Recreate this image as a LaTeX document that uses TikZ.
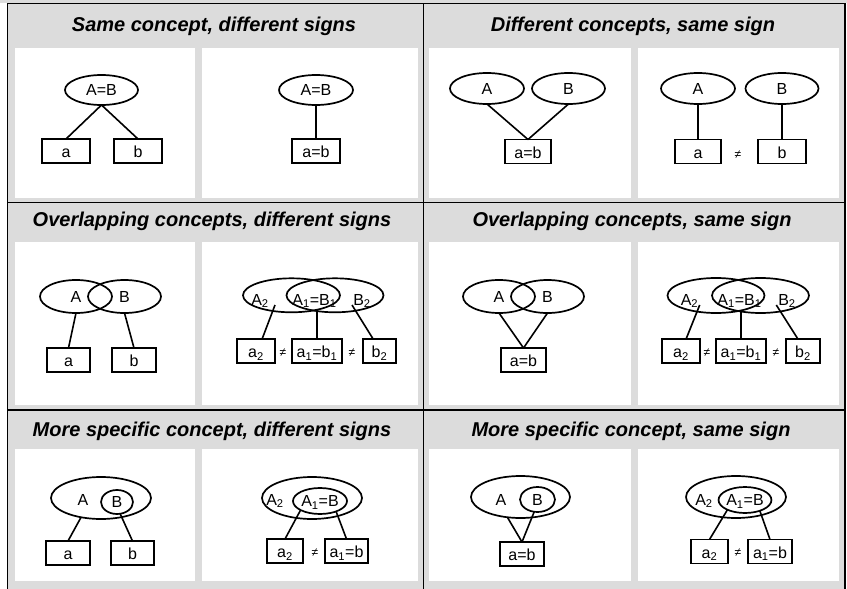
\documentclass[tikz,border=0pt]{standalone}
\usepackage{fontspec}
\setmainfont{Liberation Sans}
\usetikzlibrary{shapes.geometric}
\definecolor{cellgray}{RGB}{220,220,220}
\newcommand{\hdfont}{\fontsize{20}{22}\selectfont\bfseries\itshape}
\newcommand{\lblfont}{\fontsize{16}{18}\selectfont}
\newcommand{\neqfont}{\fontsize{12}{12}\selectfont}
\tikzset{concept/.style={draw, ellipse, line width=1.7pt, inner sep=0pt, outer sep=0pt,
                         text height=11.5pt, text depth=0pt, font=\lblfont},  % concept ellipse
         signbox/.style={draw, rectangle, line width=1.7pt, inner sep=0pt, outer sep=0pt,
                         minimum height=24pt, text height=13pt, text depth=0pt, font=\lblfont},
         lbl/.style={inner sep=0pt, anchor=base, font=\lblfont},
         neq/.style={inner sep=0pt, font=\neqfont},
         tie/.style={line width=1.6pt},
         heading/.style={inner sep=0pt, anchor=base, font=\hdfont},
         rule/.style={line width=1.3pt}}

\begin{document}
\begin{tikzpicture}[x=1pt, y=-1pt]
    \useasboundingbox (0,0) rectangle (847,589);

    % Cells
    \fill[cellgray] (0,0) rectangle (847,2.5);
    \fill[cellgray] (7.5,3.5) rectangle (845,589);
    \foreach \ya/\yb in {48/198, 242/405, 449/581}
        \foreach \xa/\xb in {15/195, 202/418, 429/631, 638/839}
            \fill[white] (\xa,\ya) rectangle (\xb,\yb);

    % Rules
    \draw[rule] (7.5,589) -- (7.5,3.5) -- (845,3.5) -- (845,589);
    \draw[rule] (423.3,3.5) -- (423.3,589);
    \foreach \y in {202.7, 410} \draw[rule] (7.5,\y) -- (845,\y);

    % Headings
    \node[heading] (h1) at (214,31.5) {Same concept, different signs};
    \node[heading] (h2) at (633,31.5) {Different concepts, same sign};
    \node[heading] (h3) at (212,226.7) {Overlapping concepts, different signs};
    \node[heading] (h4) at (632,226.7) {Overlapping concepts, same sign};
    \node[heading] (h5) at (212,436) {More specific concept, different signs};
    \node[heading] (h6) at (631,436) {More specific concept, same sign};

    % Same concept, different signs
    \node[concept, minimum width=73pt, minimum height=30pt] (p1c) at (101.5,90) {A=B};
    \node[signbox, minimum width=48pt] (p1a) at (66,151) {a};
    \node[signbox, minimum width=48pt] (p1b) at (138,151) {b};
    \draw[tie] (p1c.south) -- (p1a.north);
    \draw[tie] (p1c.south) -- (p1b.north);

    \node[concept, minimum width=74pt, minimum height=30pt] (p2c) at (316,90) {A=B};
    \node[signbox, minimum width=48pt] (p2s) at (316,151) {a=b};
    \draw[tie] (p2c.south) -- (p2s.north);

    % Different concepts, same sign
    \node[concept, minimum width=74pt, minimum height=31pt] (p3a) at (487,88.5) {A};
    \node[concept, minimum width=73pt, minimum height=31pt] (p3b) at (568.5,88.5) {B};
    \node[signbox, minimum width=46pt] (p3s) at (528,151.5) {a=b};
    \draw[tie] (p3a.south) -- (p3s.north);
    \draw[tie] (p3b.south) -- (p3s.north);

    \node[concept, minimum width=74pt, minimum height=31pt] (p4a) at (698,88.5) {A};
    \node[concept, minimum width=73pt, minimum height=31pt] (p4b) at (782,88.5) {B};
    \node[signbox, minimum width=46pt] (p4sa) at (698,151.5) {a};
    \node[signbox, minimum width=48pt] (p4sb) at (782,151.5) {b};
    \node[neq] (p4n) at (738,155) {≠};
    \draw[tie] (p4a.south) -- (p4sa.north);
    \draw[tie] (p4b.south) -- (p4sb.north);

    % Overlapping concepts, different signs
    \node[concept, minimum width=72pt, minimum height=33pt] (p5a) at (76,296.5) {A};
    \node[concept, minimum width=73pt, minimum height=33pt] (p5b) at (124.5,296.5) {B};
    \node[signbox, minimum width=43pt] (p5sa) at (68.5,360) {a};
    \node[signbox, minimum width=44pt] (p5sb) at (134,360) {b};
    \draw[tie] (p5a.south) -- (p5sa.north);
    \draw[tie] (p5b.south) -- (p5sb.north);

    \node[concept, minimum width=97pt, minimum height=34pt] (p6l) at (291.5,295.3) {};
    \node[concept, minimum width=97pt, minimum height=34pt] (p6r) at (335,295.3) {};
    \node[lbl] (p6ta) at (260,305) {A\textsubscript{2}};
    \node[lbl] (p6tm) at (314.5,305) {A\textsubscript{1}=B\textsubscript{1}};
    \node[lbl] (p6tb) at (362,305) {B\textsubscript{2}};
    \node[signbox, minimum width=38pt] (p6sa) at (256,351) {a\textsubscript{2}};
    \node[signbox, minimum width=50pt] (p6sm) at (317,351) {a\textsubscript{1}=b\textsubscript{1}};
    \node[signbox, minimum width=33pt] (p6sb) at (379.5,351) {b\textsubscript{2}};
    \node[neq] (p6n1) at (283,353) {≠};
    \node[neq] (p6n2) at (352,353) {≠};
    \coordinate (p6ka) at (275,305);
    \coordinate (p6km) at (317,310);
    \coordinate (p6kb) at (352,305);
    \draw[tie] (p6ka) -- (p6sa.63);
    \draw[tie] (p6km) -- (p6sm.north);
    \draw[tie] (p6kb) -- (p6sb.118);

    % Overlapping concepts, same sign
    \node[concept, minimum width=72pt, minimum height=33pt] (p7a) at (499,296.5) {A};
    \node[concept, minimum width=73pt, minimum height=33pt] (p7b) at (547.5,296.5) {B};
    \node[signbox, minimum width=45pt] (p7s) at (523.5,360) {a=b};
    \draw[tie] (p7a.south) -- (p7s.north);
    \draw[tie] (p7b.south) -- (p7s.north);

    \node[concept, minimum width=97pt, minimum height=35pt] (p8l) at (716,295.5) {};
    \node[concept, minimum width=97pt, minimum height=35pt] (p8r) at (760.5,295.5) {};
    \node[lbl] (p8ta) at (689.5,305) {A\textsubscript{2}};
    \node[lbl] (p8tm) at (739.5,305) {A\textsubscript{1}=B\textsubscript{1}};
    \node[lbl] (p8tb) at (787,305) {B\textsubscript{2}};
    \node[signbox, minimum width=38pt] (p8sa) at (681,351) {a\textsubscript{2}};
    \node[signbox, minimum width=50pt] (p8sm) at (741,351) {a\textsubscript{1}=b\textsubscript{1}};
    \node[signbox, minimum width=34pt] (p8sb) at (803,351) {b\textsubscript{2}};
    \node[neq] (p8n1) at (707,353) {≠};
    \node[neq] (p8n2) at (776,353) {≠};
    \coordinate (p8ka) at (699.7,305);
    \coordinate (p8km) at (741,310);
    \coordinate (p8kb) at (776.3,305);
    \draw[tie] (p8ka) -- (p8sa.67);
    \draw[tie] (p8km) -- (p8sm.north);
    \draw[tie] (p8kb) -- (p8sb.113);

    % More specific concept, different signs
    \node[concept, minimum width=100pt, minimum height=42pt] (p9o) at (101,498) {};
    \node[concept, minimum width=32pt, minimum height=24pt] (p9i) at (117,502) {B};
    \node[lbl] (p9t) at (83,505) {A};
    \node[signbox, minimum width=44pt] (p9sa) at (68,553) {a};
    \node[signbox, minimum width=43pt] (p9sb) at (132.5,553) {b};
    \draw[tie] (p9o.224) -- (p9sa.north);
    \draw[tie] (p9i.285) -- (p9sb.north);

    \node[concept, minimum width=100pt, minimum height=42pt] (p10o) at (312,498) {};
    \node[concept, minimum width=54pt, minimum height=26pt] (p10i) at (320,501) {A\textsubscript{1}=B};
    \node[lbl] (p10t) at (275,505) {A\textsubscript{2}};
    \node[signbox, minimum width=36pt] (p10sa) at (285,551) {a\textsubscript{2}};
    \node[signbox, minimum width=43pt] (p10sb) at (346.5,551) {a\textsubscript{1}=b};
    \node[neq] (p10n) at (315,553) {≠};
    \draw[tie] (p10i.205) -- (p10sa.north);
    \draw[tie] (p10i.327) -- (p10sb.north);

    % More specific concept, same sign
    \node[concept, minimum width=99pt, minimum height=42pt] (p11o) at (520.5,497) {};
    \node[concept, minimum width=35pt, minimum height=25pt] (p11i) at (537.5,499.5) {B};
    \node[lbl] (p11t) at (501,505) {A};
    \node[signbox, minimum width=44pt] (p11s) at (522,554) {a=b};
    \draw[tie] (p11o.237) -- (p11s.north);
    \draw[tie] (p11i.255) -- (p11s.north);

    \node[concept, minimum width=100pt, minimum height=42pt] (p12o) at (736,497) {};
    \node[concept, minimum width=52pt, minimum height=26pt] (p12i) at (745,500) {A\textsubscript{1}=B};
    \node[lbl] (p12t) at (704,505) {A\textsubscript{2}};
    \node[signbox, minimum width=37pt] (p12sa) at (709.5,551.5) {a\textsubscript{2}};
    \node[signbox, minimum width=44pt] (p12sb) at (770,551.5) {a\textsubscript{1}=b};
    \node[neq] (p12n) at (738,553) {≠};
    \draw[tie] (p12i.209) -- (p12sa.north);
    \draw[tie] (p12i.324) -- (p12sb.north);
\end{tikzpicture}
\end{document}
